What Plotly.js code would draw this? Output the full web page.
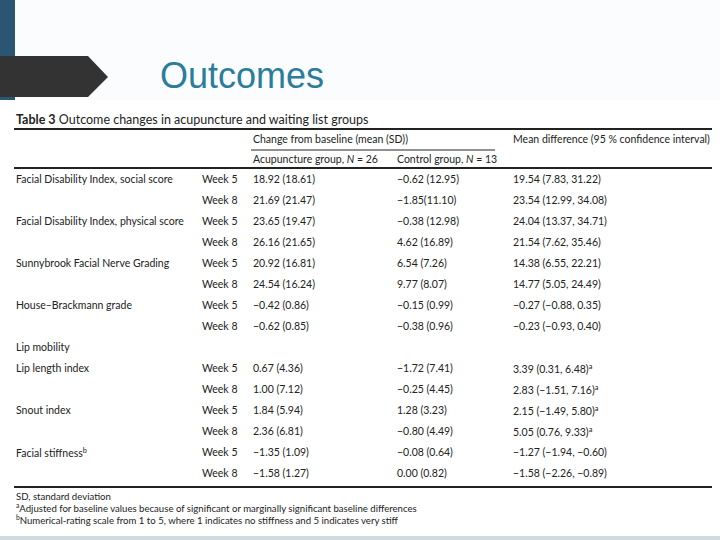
<!DOCTYPE html>
<html>
<head>
<meta charset="utf-8">
<script src="https://cdn.plot.ly/plotly-3.0.1.min.js"></script>
<style>
  html, body { margin: 0; padding: 0; background: #fff; }
  #plotArea { width: 720px; height: 540px; }
</style>
</head>
<body>
<div id="plotArea"></div>
<script>
// table rows
var outcomes = ["Facial Disability Index, social score", "", "Facial Disability Index, physical score", "",
    "Sunnybrook Facial Nerve Grading", "", "House\u2013Brackmann grade", "", "Lip mobility",
    "Lip length index", "", "Snout index", "", "Facial stiffness<sup>b</sup>", ""];
var weeks = ["Week 5", "Week 8", "Week 5", "Week 8", "Week 5", "Week 8", "Week 5", "Week 8", "",
    "Week 5", "Week 8", "Week 5", "Week 8", "Week 5", "Week 8"];
var acupuncture = ["18.92 (18.61)", "21.69 (21.47)", "23.65 (19.47)", "26.16 (21.65)", "20.92 (16.81)",
    "24.54 (16.24)", "\u22120.42 (0.86)", "\u22120.62 (0.85)", "", "0.67 (4.36)", "1.00 (7.12)",
    "1.84 (5.94)", "2.36 (6.81)", "\u22121.35 (1.09)", "\u22121.58 (1.27)"];
var control = ["\u22120.62 (12.95)", "\u22121.85(11.10)", "\u22120.38 (12.98)", "4.62 (16.89)", "6.54 (7.26)",
    "9.77 (8.07)", "\u22120.15 (0.99)", "\u22120.38 (0.96)", "", "\u22121.72 (7.41)", "\u22120.25 (4.45)",
    "1.28 (3.23)", "\u22120.80 (4.49)", "\u22120.08 (0.64)", "0.00 (0.82)"];
var meanDiff = ["19.54 (7.83, 31.22)", "23.54 (12.99, 34.08)", "24.04 (13.37, 34.71)", "21.54 (7.62, 35.46)",
    "14.38 (6.55, 22.21)", "14.77 (5.05, 24.49)", "\u22120.27 (\u22120.88, 0.35)", "\u22120.23 (\u22120.93, 0.40)", "",
    "3.39 (0.31, 6.48)<sup>a</sup>", "2.83 (\u22121.51, 7.16)<sup>a</sup>", "2.15 (\u22121.49, 5.80)<sup>a</sup>",
    "5.05 (0.76, 9.33)<sup>a</sup>", "\u22121.27 (\u22121.94, \u22120.60)", "\u22121.58 (\u22122.26, \u22120.89)"];
var footnotes = ["SD, standard deviation",
    "<sup>a</sup>Adjusted for baseline values because of significant or marginally significant baseline differences",
    "<sup>b</sup>Numerical-rating scale from 1 to 5, where 1 indicates no stiffness and 5 indicates very stiff"];

var font = "Lato, 'Open Sans', sans-serif";
var ink = "#222";
var colX = [14, 200, 251, 395, 511];
var rowY0 = 179, rowStep = 21;

var ann = [];
function txt(x, y, s, size, extra) {
    var a = {x: x, y: y, xref: "x", yref: "y", text: s, showarrow: false,
        xanchor: "left", yanchor: "middle", font: {family: font, size: size, color: ink}};
    for (var k in extra) a[k] = extra[k];
    ann.push(a);
}

// slide title
txt(158, 75, "Outcomes", 36, {font: {family: "'Liberation Sans', Arial, sans-serif", size: 36, color: "#2a7d9c"}});

// table heading
txt(14, 119, "<b>Table 3</b> Outcome changes in acupuncture and waiting list groups", 12.5);
txt(251, 139, "Change from baseline (mean (SD))", 10.5);
txt(511, 139, "Mean difference (95 % confidence interval)", 10.5);
txt(251, 159, "Acupuncture group, <i>N</i> = 26", 10.5);
txt(395, 159, "Control group, <i>N</i> = 13", 10.5);

var cols = [outcomes, weeks, acupuncture, control, meanDiff];
for (var i = 0; i < outcomes.length; i++) {
    for (var c = 0; c < cols.length; c++) {
        if (cols[c][i]) txt(colX[c], rowY0 + i * rowStep, cols[c][i], 10.5);
    }
}
for (var f = 0; f < footnotes.length; f++) {
    txt(14, 496 + f * 11.5, footnotes[f], 9.6);
}

var shapes = [
    // faint header band
    {type: "rect", xref: "x", yref: "y", x0: 0, x1: 720, y0: 0, y1: 100, fillcolor: "#fbfcfd", line: {width: 0}, layer: "below"},
    // left bar
    {type: "rect", xref: "x", yref: "y", x0: 0, x1: 15, y0: 0, y1: 100, fillcolor: "#2b5673", line: {width: 0}},
    // arrow tag
    {type: "path", xref: "x", yref: "y", path: "M0,56 L88,56 L108,77 L88,97 L0,97 Z", fillcolor: "#333333", line: {width: 0}},
    // bottom strip
    {type: "rect", xref: "x", yref: "y", x0: 0, x1: 720, y0: 536, y1: 540, fillcolor: "#cfdbe3", line: {width: 0}},
    // table rules
    {type: "line", xref: "x", yref: "y", x0: 14, x1: 712, y0: 129, y1: 129, line: {color: "#222", width: 2}},
    {type: "line", xref: "x", yref: "y", x0: 251, x1: 495, y0: 150, y1: 150, line: {color: "#222", width: 1}},
    {type: "line", xref: "x", yref: "y", x0: 14, x1: 712, y0: 168, y1: 168, line: {color: "#222", width: 2}},
    {type: "line", xref: "x", yref: "y", x0: 14, x1: 712, y0: 487, y1: 487, line: {color: "#222", width: 2}}
];

var layout = {
    width: 720, height: 540,
    margin: {l: 0, r: 0, t: 0, b: 0},
    paper_bgcolor: "#ffffff", plot_bgcolor: "#ffffff",
    xaxis: {range: [0, 720], visible: false, fixedrange: true},
    yaxis: {range: [540, 0], visible: false, fixedrange: true},
    showlegend: false,
    annotations: ann,
    shapes: shapes
};

Plotly.newPlot("plotArea", [], layout, {staticPlot: true});
</script>
</body>
</html>
